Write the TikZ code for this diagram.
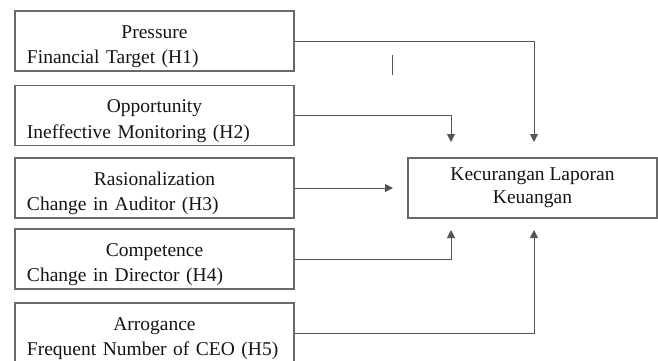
\documentclass[tikz,border=0pt]{standalone}
\usepackage{fontspec}
\setmainfont{Liberation Serif}
\definecolor{BoxGray}{RGB}{105,105,105}
\definecolor{LineGray}{RGB}{85,85,85}
\definecolor{TextDark}{RGB}{20,20,20}
\usetikzlibrary{positioning, arrows.meta, calc}

\begin{document}
\begin{tikzpicture}[x=1pt, y=-1pt,
    factor/.style={draw=BoxGray, line width=1.2pt, minimum width=279pt, minimum height=60pt,
      text width=255pt, inner xsep=12pt, inner ysep=0pt, text=TextDark,
      font=\fontsize{19.5}{25.5}\selectfont, execute at begin node={\rule{0pt}{24pt}}},
    result/.style={draw=BoxGray, line width=1.2pt, minimum width=249pt, minimum height=60pt,
      align=center, text=TextDark, font=\fontsize{19.5}{23}\selectfont},
    link/.style={draw=LineGray, line width=1pt},
    arr/.style={link, -{Triangle[length=8pt, width=8pt]}}]
  \useasboundingbox (0,0) rectangle (658,360);
  \node[factor] (h1) at (154.5,41) {{\centering Pressure\par}\raggedright Financial Target (H1)};
  \node[factor] (h2) at (154.5,115.5) {{\centering Opportunity\par}\raggedright Ineffective Monitoring (H2)};
  \node[factor] (h3) at (154.5,188) {{\centering Rasionalization\par}\raggedright Change in Auditor (H3)};
  \node[factor] (h4) at (154.5,259) {{\centering Competence\par}\raggedright Change in Director (H4)};
  \node[factor] (h5) at (154.5,333) {{\centering Arrogance\par}\raggedright Frequent Number of CEO (H5)};
  \node[result] (fraud) at (532.5,188) {Kecurangan Laporan\\Keuangan};
  \coordinate (inH1) at (534,142);
  \coordinate (inH2) at (451,142);
  \coordinate (inH3) at (393,188);
  \coordinate (inH4) at (451,230);
  \coordinate (inH5) at (534,230);
  \coordinate (tick) at (392,55);
  \draw[arr] (h1.east) -| (inH1);
  \draw[arr] (h2.east) -| (inH2);
  \draw[arr] (h3.east) -- (inH3);
  \draw[arr] (h4.east) -| (inH4);
  \draw[arr] (h5.east) -| (inH5);
  \draw[link] (tick) -- ++(0,20);
\end{tikzpicture}
\end{document}
